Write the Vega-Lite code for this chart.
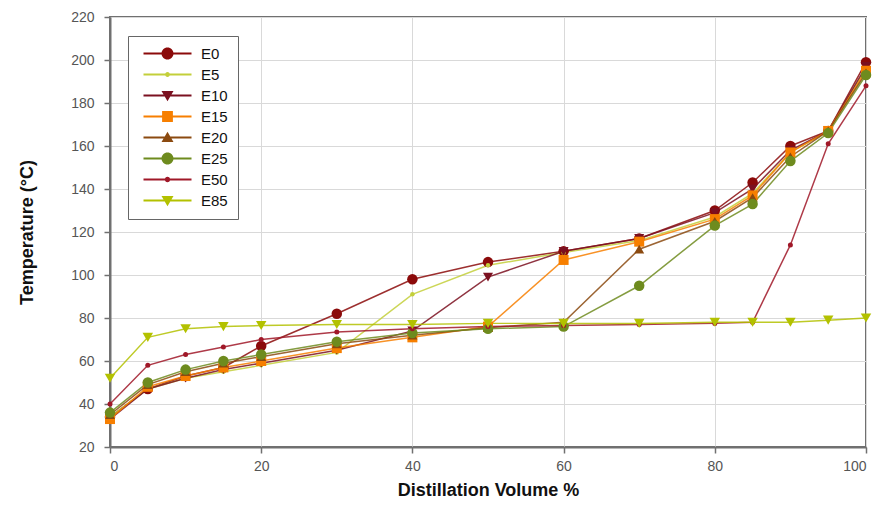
{
  "$schema": "https://vega.github.io/schema/vega-lite/v6.json",
  "width": 756,
  "height": 430,
  "autosize": {"type": "none"},
  "padding": {"left": 110, "top": 17, "right": 23, "bottom": 70},
  "background": "white",
  "config": {
    "font": "Liberation Sans",
    "view": {"stroke": "#707070", "strokeWidth": 2},
    "axis": {
      "domainColor": "#707070",
      "domainWidth": 2,
      "tickColor": "#707070",
      "tickWidth": 1.5,
      "tickSize": 6,
      "gridColor": "#d9d9d9",
      "gridWidth": 1,
      "labelFont": "Liberation Sans",
      "labelFontSize": 14,
      "labelColor": "#555555",
      "titleFont": "Liberation Sans",
      "titleFontSize": 18,
      "titleFontWeight": "bold",
      "titleColor": "#111111"
    }
  },
  "data": {"values": [
    {"series":"E0","vol":0,"temp":34},{"series":"E0","vol":5,"temp":47},{"series":"E0","vol":10,"temp":53},{"series":"E0","vol":15,"temp":57},{"series":"E0","vol":20,"temp":67},{"series":"E0","vol":30,"temp":82},{"series":"E0","vol":40,"temp":98},{"series":"E0","vol":50,"temp":106},{"series":"E0","vol":60,"temp":111},{"series":"E0","vol":70,"temp":117},{"series":"E0","vol":80,"temp":130},{"series":"E0","vol":85,"temp":143},{"series":"E0","vol":90,"temp":160},{"series":"E0","vol":95,"temp":167},{"series":"E0","vol":100,"temp":199},
    {"series":"E5","vol":0,"temp":34},{"series":"E5","vol":5,"temp":47},{"series":"E5","vol":10,"temp":52},{"series":"E5","vol":15,"temp":55},{"series":"E5","vol":20,"temp":58},{"series":"E5","vol":30,"temp":64},{"series":"E5","vol":40,"temp":91},{"series":"E5","vol":50,"temp":104.5},{"series":"E5","vol":60,"temp":110.5},{"series":"E5","vol":70,"temp":116},{"series":"E5","vol":80,"temp":127},{"series":"E5","vol":85,"temp":138},{"series":"E5","vol":90,"temp":157},{"series":"E5","vol":95,"temp":167},{"series":"E5","vol":100,"temp":196},
    {"series":"E10","vol":0,"temp":33},{"series":"E10","vol":5,"temp":47},{"series":"E10","vol":10,"temp":52},{"series":"E10","vol":15,"temp":56},{"series":"E10","vol":20,"temp":59},{"series":"E10","vol":30,"temp":65},{"series":"E10","vol":40,"temp":74},{"series":"E10","vol":50,"temp":99},{"series":"E10","vol":60,"temp":111},{"series":"E10","vol":70,"temp":117},{"series":"E10","vol":80,"temp":129},{"series":"E10","vol":85,"temp":140},{"series":"E10","vol":90,"temp":158},{"series":"E10","vol":95,"temp":167},{"series":"E10","vol":100,"temp":197},
    {"series":"E15","vol":0,"temp":33},{"series":"E15","vol":5,"temp":48},{"series":"E15","vol":10,"temp":53},{"series":"E15","vol":15,"temp":57},{"series":"E15","vol":20,"temp":60},{"series":"E15","vol":30,"temp":66},{"series":"E15","vol":40,"temp":71},{"series":"E15","vol":50,"temp":76},{"series":"E15","vol":60,"temp":107},{"series":"E15","vol":70,"temp":115.5},{"series":"E15","vol":80,"temp":126},{"series":"E15","vol":85,"temp":137},{"series":"E15","vol":90,"temp":157},{"series":"E15","vol":95,"temp":167},{"series":"E15","vol":100,"temp":195},
    {"series":"E20","vol":0,"temp":35},{"series":"E20","vol":5,"temp":49},{"series":"E20","vol":10,"temp":55},{"series":"E20","vol":15,"temp":59},{"series":"E20","vol":20,"temp":62},{"series":"E20","vol":30,"temp":68},{"series":"E20","vol":40,"temp":72},{"series":"E20","vol":50,"temp":75.5},{"series":"E20","vol":60,"temp":78},{"series":"E20","vol":70,"temp":112},{"series":"E20","vol":80,"temp":125},{"series":"E20","vol":85,"temp":136},{"series":"E20","vol":90,"temp":155},{"series":"E20","vol":95,"temp":167},{"series":"E20","vol":100,"temp":194},
    {"series":"E25","vol":0,"temp":36},{"series":"E25","vol":5,"temp":50},{"series":"E25","vol":10,"temp":56},{"series":"E25","vol":15,"temp":60},{"series":"E25","vol":20,"temp":63},{"series":"E25","vol":30,"temp":69},{"series":"E25","vol":40,"temp":73},{"series":"E25","vol":50,"temp":75},{"series":"E25","vol":60,"temp":76},{"series":"E25","vol":70,"temp":95},{"series":"E25","vol":80,"temp":123},{"series":"E25","vol":85,"temp":133},{"series":"E25","vol":90,"temp":153},{"series":"E25","vol":95,"temp":166},{"series":"E25","vol":100,"temp":193},
    {"series":"E50","vol":0,"temp":40},{"series":"E50","vol":5,"temp":58},{"series":"E50","vol":10,"temp":63},{"series":"E50","vol":15,"temp":66.5},{"series":"E50","vol":20,"temp":70},{"series":"E50","vol":30,"temp":73.5},{"series":"E50","vol":40,"temp":75},{"series":"E50","vol":50,"temp":76},{"series":"E50","vol":60,"temp":76.5},{"series":"E50","vol":70,"temp":77},{"series":"E50","vol":80,"temp":77.5},{"series":"E50","vol":85,"temp":78},{"series":"E50","vol":90,"temp":114},{"series":"E50","vol":95,"temp":161},{"series":"E50","vol":100,"temp":188},
    {"series":"E85","vol":0,"temp":52},{"series":"E85","vol":5,"temp":71},{"series":"E85","vol":10,"temp":75},{"series":"E85","vol":15,"temp":76},{"series":"E85","vol":20,"temp":76.5},{"series":"E85","vol":30,"temp":77},{"series":"E85","vol":40,"temp":77},{"series":"E85","vol":50,"temp":77.5},{"series":"E85","vol":60,"temp":77.5},{"series":"E85","vol":70,"temp":77.5},{"series":"E85","vol":80,"temp":78},{"series":"E85","vol":85,"temp":78},{"series":"E85","vol":90,"temp":78},{"series":"E85","vol":95,"temp":79},{"series":"E85","vol":100,"temp":80}
  ]},
  "encoding": {
    "x": {"field": "vol", "type": "quantitative", "scale": {"domain": [0, 100], "nice": false},
      "axis": {"values": [0, 20, 40, 60, 80, 100], "title": "Distillation Volume %", "labelPadding": 6, "titlePadding": 8, "grid": true}},
    "y": {"field": "temp", "type": "quantitative", "scale": {"domain": [20, 220], "nice": false, "zero": false},
      "axis": {"values": [20, 40, 60, 80, 100, 120, 140, 160, 180, 200, 220], "title": "Temperature (°C)", "labelPadding": 10, "titlePadding": 34, "grid": true}},
    "color": {"field": "series", "type": "nominal",
      "scale": {"domain": ["E0","E5","E10","E15","E20","E25","E50","E85"],
                "range": ["#8b0a0a","#c3cf3a","#7b1020","#f77f00","#8b4a10","#6e8b1e","#a01828","#b3c100"]},
      "legend": {"title": null, "orient": "none", "legendX": 18, "legendY": 19, "symbolSize": 144, "symbolOffset": 22, "labelOffset": 26,
        "labelFontSize": 15, "labelFont": "Liberation Sans", "labelColor": "#111111", "padding": 10, "strokeColor": "#666666", "fillColor": "white",
        "rowPadding": 5, "symbolStrokeWidth": 0, "symbolOpacity": 1}}
  },
  "layer": [
    {"mark": {"type": "line", "strokeWidth": 1.5, "opacity": 0.85}},
    {"transform": [{"filter": "datum.series === 'E0'"}], "mark": {"type": "point", "filled": true, "shape": "circle", "size": 110, "opacity": 1}},
    {"transform": [{"filter": "datum.series === 'E5'"}], "mark": {"type": "point", "filled": true, "shape": "circle", "size": 20, "opacity": 1}},
    {"transform": [{"filter": "datum.series === 'E10'"}], "mark": {"type": "point", "filled": true, "shape": "triangle-down", "size": 100, "opacity": 1}},
    {"transform": [{"filter": "datum.series === 'E15'"}], "mark": {"type": "point", "filled": true, "shape": "square", "size": 100, "opacity": 1}},
    {"transform": [{"filter": "datum.series === 'E20'"}], "mark": {"type": "point", "filled": true, "shape": "triangle-up", "size": 100, "opacity": 1}},
    {"transform": [{"filter": "datum.series === 'E25'"}], "mark": {"type": "point", "filled": true, "shape": "circle", "size": 110, "opacity": 1}},
    {"transform": [{"filter": "datum.series === 'E50'"}], "mark": {"type": "point", "filled": true, "shape": "circle", "size": 25, "opacity": 1}},
    {"transform": [{"filter": "datum.series === 'E85'"}], "mark": {"type": "point", "filled": true, "shape": "triangle-down", "size": 110, "opacity": 1}},
    {"mark": {"type": "point", "filled": true, "opacity": 0},
      "encoding": {
        "shape": {"field": "series", "type": "nominal",
          "scale": {"domain": ["E0","E5","E10","E15","E20","E25","E50","E85"],
            "range": [
              "M-4,-0.17H4V0.17H-4Z M0,-1A1,1 0 1,1 0,1A1,1 0 1,1 0,-1Z",
              "M-4,-0.17H4V0.17H-4Z M0,-0.4A0.4,0.4 0 1,1 0,0.4A0.4,0.4 0 1,1 0,-0.4Z",
              "M-4,-0.17H4V0.17H-4Z M-1,-0.75L1,-0.75L0,0.95Z",
              "M-4,-0.17H4V0.17H-4Z M-0.9,-0.9H0.9V0.9H-0.9Z",
              "M-4,-0.17H4V0.17H-4Z M0,-0.95L1,0.75L-1,0.75Z",
              "M-4,-0.17H4V0.17H-4Z M0,-1A1,1 0 1,1 0,1A1,1 0 1,1 0,-1Z",
              "M-4,-0.17H4V0.17H-4Z M0,-0.45A0.45,0.45 0 1,1 0,0.45A0.45,0.45 0 1,1 0,-0.45Z",
              "M-4,-0.17H4V0.17H-4Z M-1,-0.75L1,-0.75L0,0.95Z"
            ]},
          "legend": {"title": null, "orient": "none", "legendX": 18, "legendY": 19, "symbolSize": 144, "symbolOffset": 22, "labelOffset": 26,
            "labelFontSize": 15, "labelFont": "Liberation Sans", "labelColor": "#111111", "padding": 10, "strokeColor": "#666666", "fillColor": "white",
            "rowPadding": 5, "symbolStrokeWidth": 0, "symbolOpacity": 1}}
      }}
  ]
}
